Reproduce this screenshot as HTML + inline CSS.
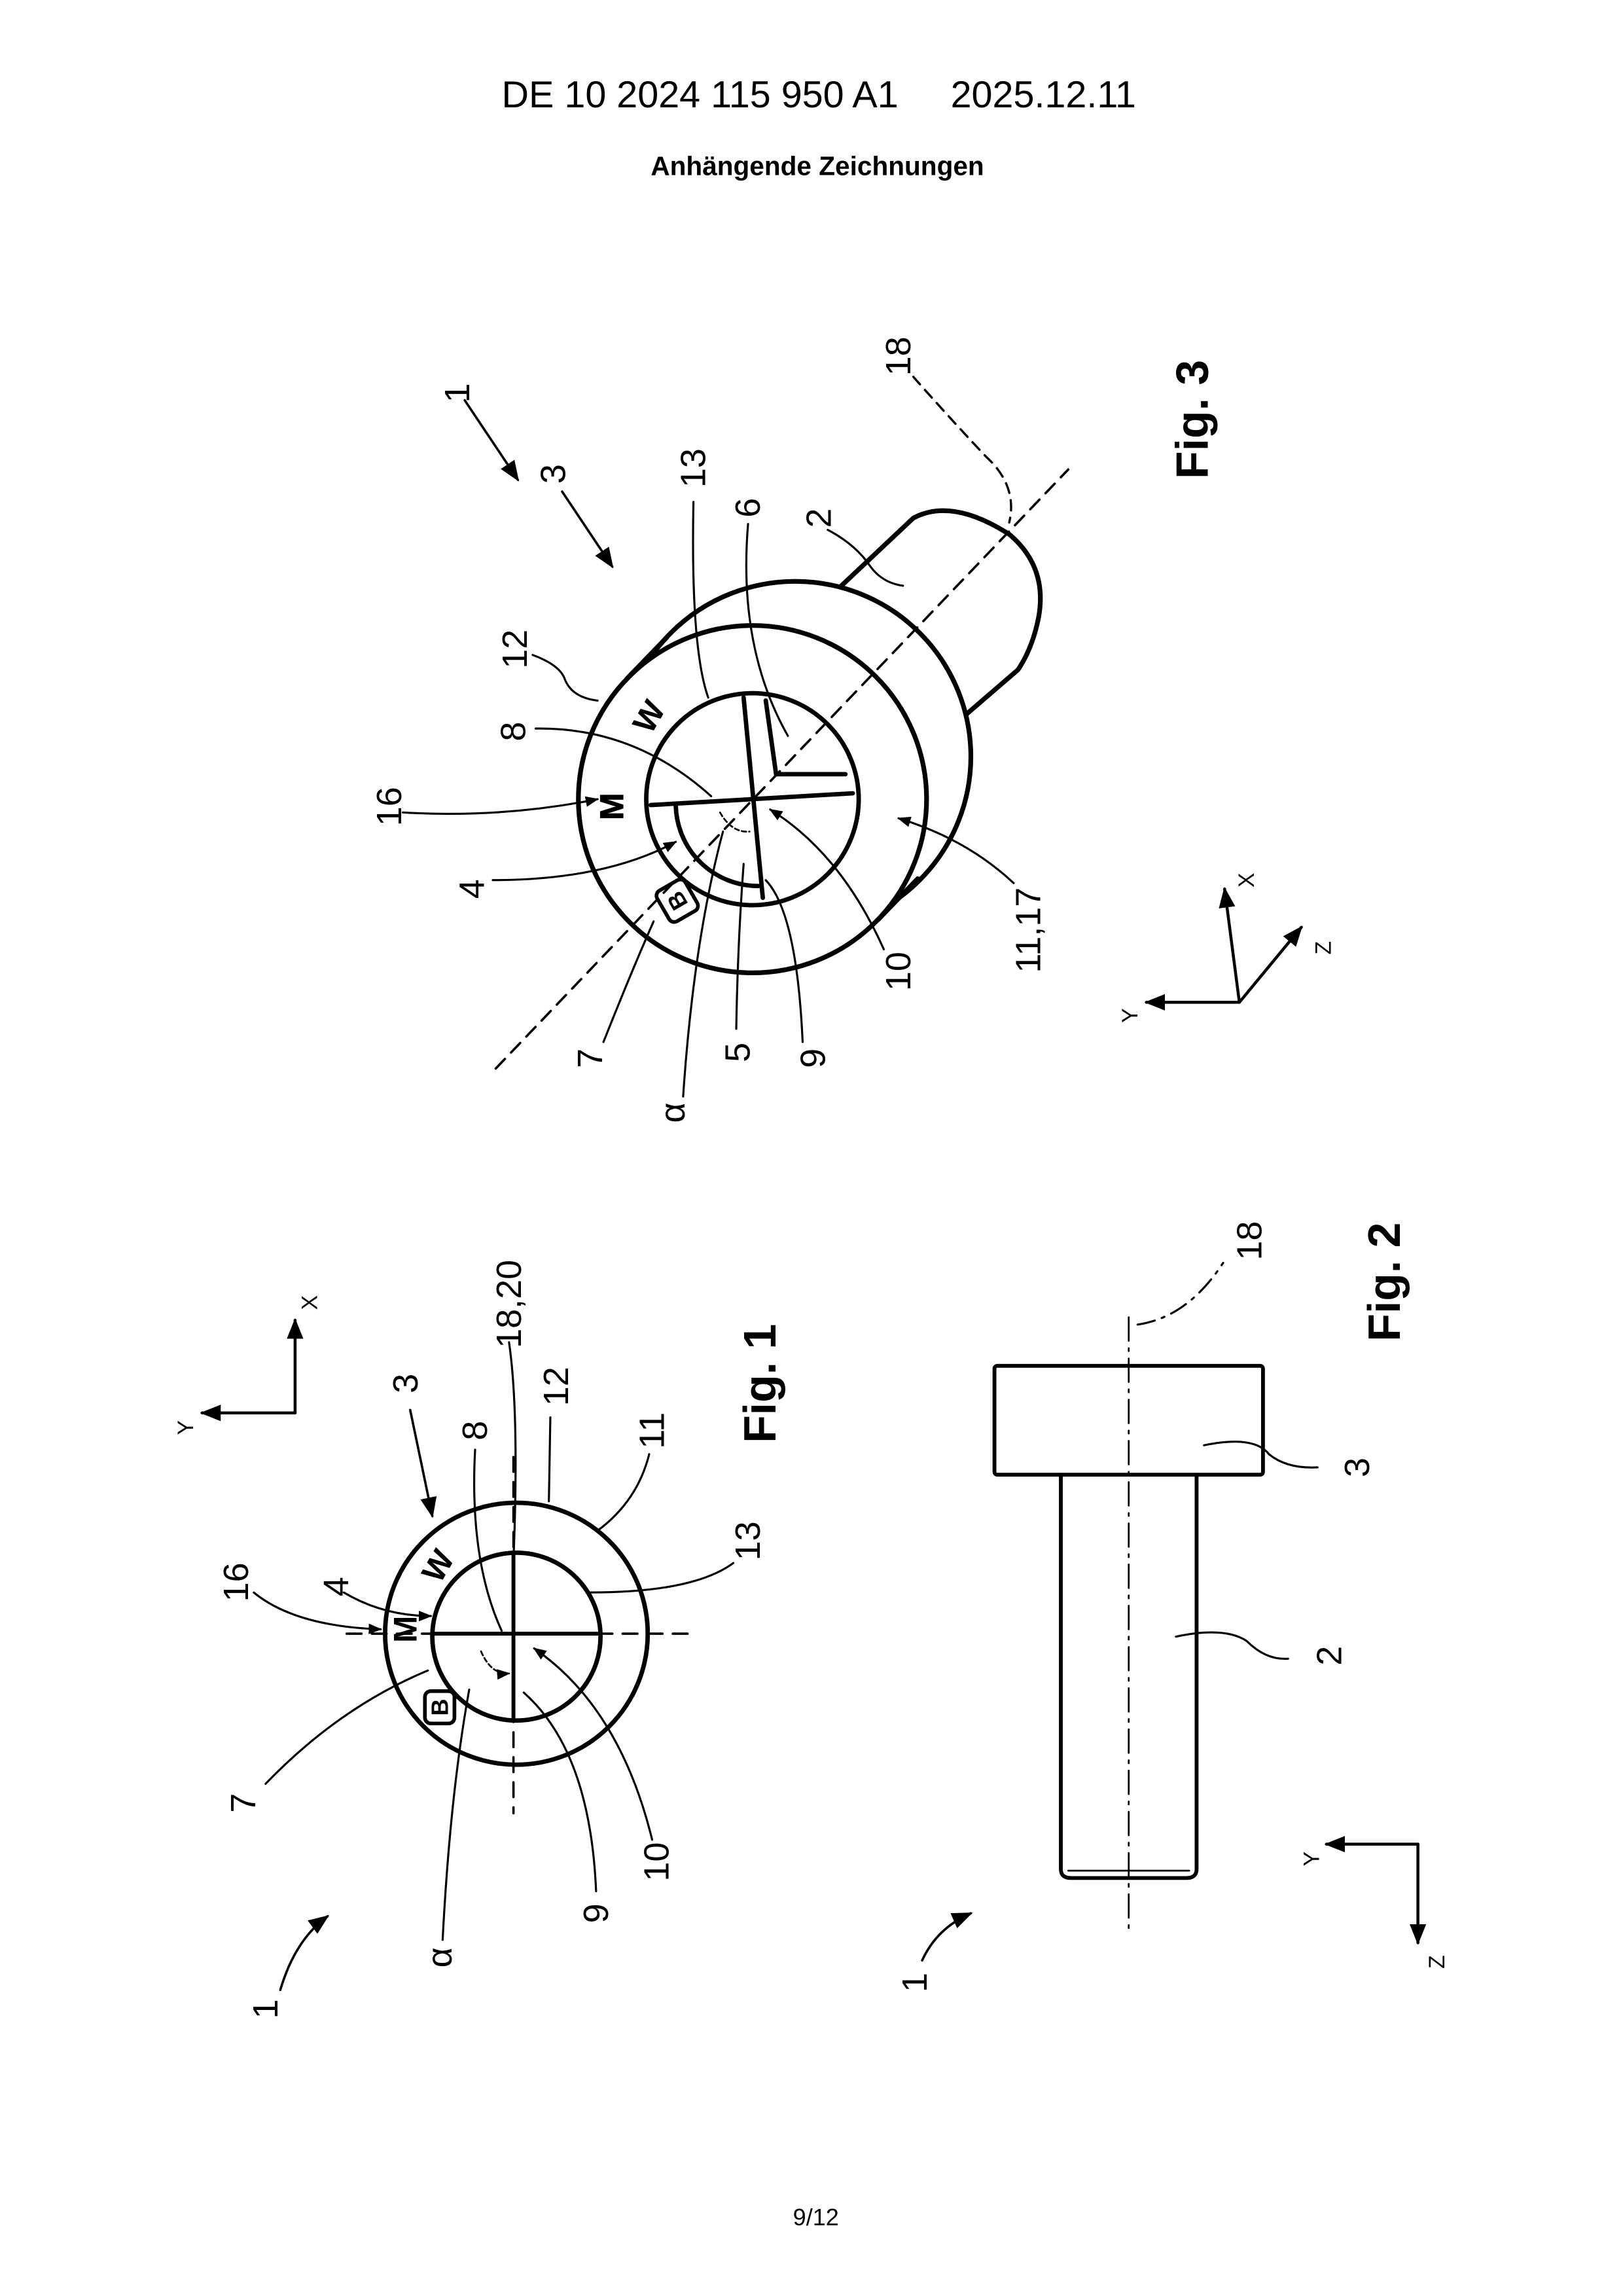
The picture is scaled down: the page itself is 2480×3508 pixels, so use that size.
<!DOCTYPE html>
<html><head><meta charset="utf-8">
<style>
html,body{margin:0;padding:0;background:#fff;}
svg{display:block;}
text{font-family:"Liberation Sans",Arial,sans-serif;fill:#000;}
</style></head>
<body>
<svg width="2480" height="3508" viewBox="0 0 1100 1560" preserveAspectRatio="none" xmlns="http://www.w3.org/2000/svg">
<defs>
<marker id="ah" viewBox="0 0 10 10" refX="9" refY="5" markerWidth="9" markerHeight="9" orient="auto" markerUnits="userSpaceOnUse">
<path d="M0,1 L10,5 L0,9 z" fill="#000"/>
</marker>
<marker id="ahb" viewBox="0 0 10 10" refX="9" refY="5" markerWidth="14" markerHeight="14" orient="auto" markerUnits="userSpaceOnUse">
<path d="M0,1 L10,5 L0,9 z" fill="#000"/>
</marker>
</defs>

<text x="555" y="73" font-size="25.5" text-anchor="middle">DE 10 2024 115 950 A1&#160;&#160;&#160;&#160;&#160;2025.12.11</text>
<text x="554" y="119" font-size="18" font-weight="bold" text-anchor="middle">Anhängende Zeichnungen</text>
<text x="553" y="1512" font-size="16" text-anchor="middle">9/12</text>

<g fill="none" stroke="#000" stroke-linecap="round">
<path d="M566,402 L619,352 Q645,338 684,363 Q710,385 704,419 Q700,440 690,455 L653,487" stroke-width="3.2" fill="#fff"/>
<circle cx="539" cy="514" r="119" stroke-width="3.2" fill="#fff"/>
<line x1="425" y1="461" x2="452" y2="433" stroke-width="3.2"/>
<line x1="595" y1="625" x2="622" y2="597" stroke-width="3.2"/>
<circle cx="510" cy="543" r="118" stroke-width="3.2" fill="#fff"/>
<circle cx="510" cy="543" r="72" stroke-width="3"/>
<line x1="336" y1="726" x2="724" y2="319" stroke-width="1.6" stroke-dasharray="9,6"/>
<line x1="441" y1="547" x2="578" y2="539" stroke-width="3"/>
<line x1="504" y1="474" x2="517" y2="610" stroke-width="3"/>
<polyline points="519,476 526,526 573,526" stroke-width="3"/>
<path d="M458,547 A56,56 0 0 0 514,602" stroke-width="3"/>
<path d="M488,552 Q496,566 508,565" stroke-width="1.2" stroke-dasharray="3,2"/>
<rect x="448" y="600" width="22" height="24" rx="4" stroke-width="2.5" transform="rotate(-30 459 612)"/>
<path d="M315,272 L351,326" stroke-width="1.6" marker-end="url(#ahb)"/>
<path d="M381,334 L415,385" stroke-width="1.6" marker-end="url(#ahb)"/>
<path d="M470,341 Q468,440 480,474" stroke-width="1.4"/>
<path d="M507,356 Q500,440 534,500" stroke-width="1.4"/>
<path d="M561,360 Q580,370 590,385 Q598,396 612,398" stroke-width="1.4"/>
<path d="M619,256 Q640,280 668,310 Q690,330 684,355" stroke-width="1.5" stroke-dasharray="7,5"/>
<path d="M361,445 Q380,452 383,462 Q388,474 405,476" stroke-width="1.4"/>
<path d="M363,495 Q430,494 482,541" stroke-width="1.4"/>
<path d="M273,552 Q340,556 405,543" stroke-width="1.4" marker-end="url(#ah)"/>
<path d="M334,598 Q410,598 458,572" stroke-width="1.4" marker-end="url(#ah)"/>
<path d="M409,708 Q428,660 443,626" stroke-width="1.4"/>
<path d="M463,745 Q470,640 490,565" stroke-width="1.4"/>
<path d="M499,699 Q500,640 504,587" stroke-width="1.4"/>
<path d="M544,708 Q540,620 519,598" stroke-width="1.4"/>
<path d="M599,645 Q570,580 522,550" stroke-width="1.4" marker-end="url(#ah)"/>
<path d="M687,600 Q655,570 609,556" stroke-width="1.4" marker-end="url(#ah)"/>
<path d="M840,681 L777,681" stroke-width="2" marker-end="url(#ahb)"/>
<path d="M840,681 L830,604" stroke-width="2" marker-end="url(#ahb)"/>
<path d="M840,681 L882,630" stroke-width="2" marker-end="url(#ahb)"/>

<circle cx="350" cy="1110" r="89" stroke-width="3"/>
<circle cx="350" cy="1112" r="57" stroke-width="3"/>
<line x1="235" y1="1110" x2="472" y2="1110" stroke-width="1.6" stroke-dasharray="10,7"/>
<line x1="348" y1="990" x2="348" y2="1232" stroke-width="1.6" stroke-dasharray="10,7"/>
<line x1="293" y1="1110" x2="407" y2="1110" stroke-width="2.6"/>
<line x1="348" y1="1055" x2="348" y2="1168" stroke-width="2.6"/>
<path d="M326,1122 Q333,1138 345,1137" stroke-width="1.2" stroke-dasharray="3,2" marker-end="url(#ah)"/>
<rect x="288" y="1149" width="20" height="22" rx="4" stroke-width="2.5"/>
<path d="M172,1082 Q200,1105 258,1107" stroke-width="1.4" marker-end="url(#ah)"/>
<path d="M233,1082 Q260,1098 292,1098" stroke-width="1.4" marker-end="url(#ah)"/>
<path d="M278,958 L293,1030" stroke-width="1.6" marker-end="url(#ahb)"/>
<path d="M322,985 Q318,1060 340,1108" stroke-width="1.4"/>
<path d="M345,912 Q352,960 348,1060" stroke-width="1.4"/>
<path d="M373,963 L372,1020" stroke-width="1.4"/>
<path d="M440,988 Q432,1020 405,1040" stroke-width="1.4"/>
<path d="M497,1062 Q470,1082 400,1082" stroke-width="1.4"/>
<path d="M180,1212 Q230,1160 290,1135" stroke-width="1.4"/>
<path d="M300,1318 Q305,1220 318,1148" stroke-width="1.4"/>
<path d="M404,1285 Q400,1190 355,1150" stroke-width="1.4"/>
<path d="M442,1250 Q420,1160 362,1120" stroke-width="1.4" marker-end="url(#ah)"/>
<path d="M190,1352 Q200,1318 222,1302" stroke-width="1.6" marker-end="url(#ahb)"/>
<path d="M200,960 L200,897" stroke-width="2" marker-end="url(#ahb)"/>
<path d="M200,960 L137,960" stroke-width="2" marker-end="url(#ahb)"/>

<rect x="674" y="928" width="182" height="74" stroke-width="2.6" rx="2"/>
<path d="M719,1002 L719,1270 Q719,1276 726,1276 L804,1276 Q811,1276 811,1270 L811,1002" stroke-width="2.6"/>
<line x1="724" y1="1271" x2="806" y2="1271" stroke-width="1.2"/>
<line x1="765" y1="895" x2="765" y2="1312" stroke-width="1.2" stroke-dasharray="16,5,2,5"/>
<path d="M771,900 Q805,895 829,858" stroke-width="1.4" stroke-dasharray="12,5,2,5"/>
<path d="M816,982 Q850,975 860,988 Q872,998 893,997" stroke-width="1.4"/>
<path d="M797,1112 Q830,1105 845,1115 Q858,1128 873,1127" stroke-width="1.4"/>
<path d="M625,1332 Q635,1310 658,1300" stroke-width="1.6" marker-end="url(#ahb)"/>
<path d="M961,1253 L899,1253" stroke-width="2" marker-end="url(#ahb)"/>
<path d="M961,1253 L961,1320" stroke-width="2" marker-end="url(#ahb)"/>
</g>

<g font-weight="bold" font-size="22" text-anchor="middle" dominant-baseline="central">
<text transform="translate(415,548) rotate(-90)" stroke="#000" stroke-width="0.5">M</text>
<text transform="translate(440,487) rotate(-60)">W</text>
<text transform="translate(459,612) rotate(-120)" font-size="16">B</text>
<text transform="translate(275,1107) rotate(-90)">M</text>
<text transform="translate(297,1064) rotate(-60)">W</text>
<text transform="translate(298,1160) rotate(-90)" font-size="16">B</text>
</g>

<g font-size="24" text-anchor="middle" dominant-baseline="central">
<text transform="translate(310,267) rotate(-90)">1</text>
<text transform="translate(375,322) rotate(-90)">3</text>
<text transform="translate(470,318) rotate(-90)">13</text>
<text transform="translate(507,345) rotate(-90)">6</text>
<text transform="translate(555,352) rotate(-90)">2</text>
<text transform="translate(609,242) rotate(-90)">18</text>
<text transform="translate(349,441) rotate(-90)">12</text>
<text transform="translate(348,497) rotate(-90)">8</text>
<text transform="translate(264,548) rotate(-90)">16</text>
<text transform="translate(320,604) rotate(-90)">4</text>
<text transform="translate(400,719) rotate(-90)">7</text>
<text transform="translate(456,756) rotate(-90)">α</text>
<text transform="translate(500,715) rotate(-90)">5</text>
<text transform="translate(551,719) rotate(-90)">9</text>
<text transform="translate(609,660) rotate(-90)">10</text>
<text transform="translate(697,632) rotate(-90)">11,17</text>
<text transform="translate(808,285) rotate(-90)" font-size="31" font-weight="bold">Fig. 3</text>
<text transform="translate(845,598) rotate(-90)" font-size="15">X</text>
<text transform="translate(766,690) rotate(-90)" font-size="15">Y</text>
<text transform="translate(897,644) rotate(-90)" font-size="15">Z</text>

<text transform="translate(160,1075) rotate(-90)">16</text>
<text transform="translate(228,1078) rotate(-90)">4</text>
<text transform="translate(275,940) rotate(-90)">3</text>
<text transform="translate(322,972) rotate(-90)">8</text>
<text transform="translate(345,886) rotate(-90)">18,20</text>
<text transform="translate(377,942) rotate(-90)">12</text>
<text transform="translate(442,972) rotate(-90)">11</text>
<text transform="translate(507,1047) rotate(-90)">13</text>
<text transform="translate(165,1225) rotate(-90)">7</text>
<text transform="translate(298,1330) rotate(-90)">α</text>
<text transform="translate(404,1300) rotate(-90)">9</text>
<text transform="translate(445,1265) rotate(-90)">10</text>
<text transform="translate(180,1365) rotate(-90)">1</text>
<text transform="translate(515,940) rotate(-90)" font-size="31" font-weight="bold">Fig. 1</text>
<text transform="translate(210,885) rotate(-90)" font-size="15">X</text>
<text transform="translate(126,970) rotate(-90)" font-size="15">Y</text>

<text transform="translate(847,843) rotate(-90)">18</text>
<text transform="translate(920,997) rotate(-90)">3</text>
<text transform="translate(901,1125) rotate(-90)">2</text>
<text transform="translate(620,1347) rotate(-90)">1</text>
<text transform="translate(938,871) rotate(-90)" font-size="31" font-weight="bold">Fig. 2</text>
<text transform="translate(889,1263) rotate(-90)" font-size="15">Y</text>
<text transform="translate(974,1333) rotate(-90)" font-size="15">Z</text>
</g>
</svg>
</body></html>
